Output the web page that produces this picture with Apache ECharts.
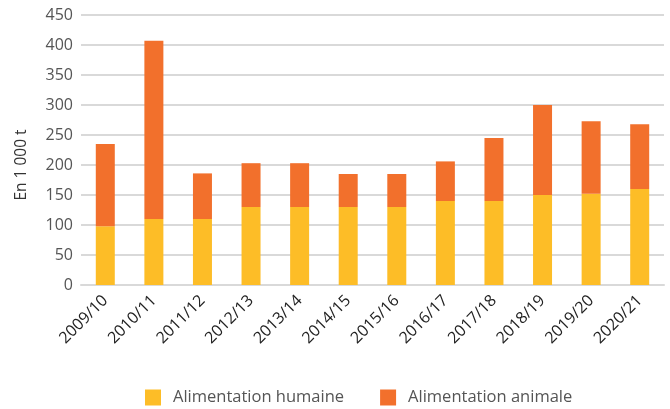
<!DOCTYPE html>
<html><head><meta charset="utf-8">
<script src="https://cdn.jsdelivr.net/npm/echarts@6/dist/echarts.min.js"></script>
<style>html,body{margin:0;padding:0;background:#fff}#c{width:670px;height:409px}</style>
</head><body><div id="c"></div>
<script>
const categories = ['2009/10','2010/11','2011/12','2012/13','2013/14','2014/15','2015/16','2016/17','2017/18','2018/19','2019/20','2020/21'];
const humaine = [98, 110, 110, 130, 130, 130, 130, 140, 140, 150, 152, 160];
const animale = [137, 297, 76, 73, 73, 55, 55, 66, 105, 150, 121, 108];
const yTicks = [0, 50, 100, 150, 200, 250, 300, 350, 400, 450];
const seriesNames = ['Alimentation humaine', 'Alimentation animale'];
const axisTitle = 'En 1 000 t';

const font = 'Open Sans';
const txt = '#555555';
const chart = echarts.init(document.getElementById('c'), null, {renderer: 'canvas'});
chart.setOption({
  animation: false,
  grid: {left: 81, right: 6, top: 15, bottom: 124, containLabel: false},
  legend: {
    top: 384, left: 140, icon: 'rect', itemWidth: 16, itemHeight: 16, itemGap: 36,
    textStyle: {color: txt, fontFamily: font, fontSize: 16.5, padding: [0,0,0,7]},
    data: seriesNames
  },
  graphic: [{
    type: 'text', x: 22, y: 165, rotation: Math.PI / 2,
    style: {text: axisTitle, fill: '#333', font: '15.5px "Open Sans"', textAlign: 'center', textVerticalAlign: 'middle'}
  }],
  xAxis: {
    type: 'category', data: categories,
    axisLine: {show: true, lineStyle: {color: '#d9d9d9', width: 2}},
    axisTick: {show: false},
    axisLabel: {rotate: 45, margin: 13, color: '#222', fontFamily: font, fontSize: 16, interval: 0}
  },
  yAxis: {
    type: 'value', min: yTicks[0], max: yTicks[yTicks.length - 1], interval: 50,
    axisLine: {show: false}, axisTick: {show: false},
    axisLabel: {margin: 8, color: txt, fontFamily: font, fontSize: 16},
    splitLine: {lineStyle: {color: '#d9d9d9', width: 2}}
  },
  series: [
    {name: seriesNames[0], type: 'bar', stack: 't', data: humaine, barWidth: 19,
     itemStyle: {color: '#FDBD27'}},
    {name: seriesNames[1], type: 'bar', stack: 't', data: animale, barWidth: 19,
     itemStyle: {color: '#F2702C'}}
  ]
});
</script></body></html>
